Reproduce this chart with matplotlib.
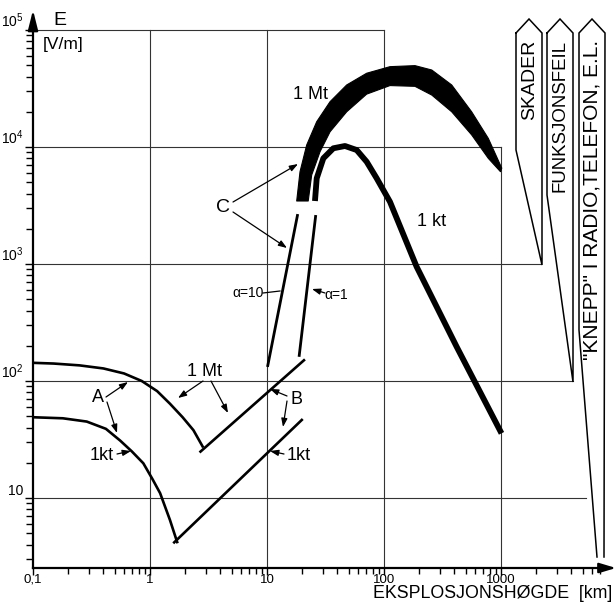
import numpy as np
import matplotlib
matplotlib.use('Agg')
import matplotlib.pyplot as plt
from matplotlib.patches import Polygon
from matplotlib.ticker import NullFormatter, FixedLocator, FixedFormatter
from matplotlib import font_manager

fams = {f.name for f in font_manager.fontManager.ttflist}
fam_list = [f for f in ['Liberation Sans Narrow', 'Liberation Sans', 'DejaVu Sans'] if f in fams]
plt.rcParams['font.family'] = fam_list
plt.rcParams['mathtext.fontset'] = 'custom'
plt.rcParams['mathtext.rm'] = fam_list[0]

# ---------------- data ----------------
# A curves (E vs burst height, low altitude)
a_1mt_x = [0.1, 0.15, 0.25, 0.40, 0.60, 0.85, 1.15, 1.48, 1.9, 2.35, 2.85]
a_1mt_E = [143, 141, 136, 128, 116, 100, 82, 64, 49, 38, 27]
a_1kt_x = [0.1, 0.18, 0.288, 0.42, 0.555, 0.70, 0.877, 1.05, 1.22, 1.48, 1.72]
a_1kt_E = [49, 48, 45, 39, 31, 25, 19.8, 14.5, 11, 6.5, 4.1]
# B lines
b_1mt_x = [2.65, 21.1]
b_1mt_E = [24.5, 153]
b_1kt_x = [1.58, 20.2]
b_1kt_E = [4.1, 47.3]
# C lines
c_a10_x = [10.1, 18.3]
c_a10_E = [132, 2670]
c_a1_x = [18.8, 26.1]
c_a1_E = [161, 2620]
# 1 Mt band (outer and inner edges)
mt_outer_x = [17.94, 19.15, 21.84, 26.6, 34.6, 48.0, 71.1, 112.5, 184, 256, 379, 561, 779, 1015]
mt_outer_E = [3455, 6150, 10400, 16450, 24400, 33900, 42700, 48600, 49600, 45500, 33900, 20000, 11850, 6600]
mt_inner_x = [22.5, 24.1, 28.4, 34.6, 48.0, 71.1, 112.5, 184, 256, 379, 561, 779, 990]
mt_inner_E = [3455, 5770, 9120, 13500, 20000, 28300, 33500, 33000, 27800, 20000, 12700, 8000, 6150]
# 1 kt curve
kt_x = [25.7, 26.6, 30.3, 36.9, 46.4, 58.4, 71.1, 86.6, 112.5, 190, 418, 1010]
kt_E = [3455, 5400, 8000, 9750, 10200, 9420, 7480, 5400, 3400, 948, 196, 35.7]

x_ticks = [0.1, 1, 10, 100, 1000]
x_ticklabels = ['0,1', '1', '10', '100', '1000']
y_ticks = [10, 100, 1000, 10000, 100000]
y_ticklabels = ['10', '10$^2$', '10$^3$', '10$^4$', '10$^5$']
effects = ['SKADER', 'FUNKSJONSFEIL', '"KNEPP" I RADIO,TELEFON, E.L.']

# ---------------- layout ----------------
W, H = 616, 603
X0, Y0, DEC = 33.0, 30.0, 117.0   # pixel of x=0.1, pixel of E=1e5, pixels per decade


def P(px, py):
    """pixel position -> data coordinates"""
    return 10 ** ((px - X0) / DEC - 1), 10 ** (5 - (py - Y0) / DEC)


fig = plt.figure(figsize=(W / 100, H / 100), dpi=100)
ax = fig.add_axes([0, 0, 1, 1])
ax.set_xscale('log')
ax.set_yscale('log')
ax.set_xlim(P(0, 0)[0], P(W, 0)[0])
ax.set_ylim(P(0, H)[1], P(0, 0)[1])

Ebot = P(0, 568)[1]
Etop = P(0, 10)[1]
Xright = P(616, 0)[0]
Xend = P(606, 0)[0]

for s in ['top', 'right']:
    ax.spines[s].set_visible(False)
ax.spines['left'].set_position(('data', 0.1))
ax.spines['bottom'].set_position(('data', Ebot))
ax.spines['left'].set_bounds(Ebot, P(0, 26)[1])
ax.spines['bottom'].set_bounds(0.1, P(602, 0)[0])
ax.spines['left'].set_linewidth(1.6)
ax.spines['bottom'].set_linewidth(1.6)

# axis arrows
ax.annotate('', xy=(0.1, Etop), xytext=(0.1, P(0, 32)[1]),
            arrowprops=dict(arrowstyle='-|>,head_length=1.2,head_width=0.3', color='k', lw=1.6,
                            shrinkA=0, shrinkB=0))
ax.annotate('', xy=(Xright, Ebot), xytext=(P(598, 0)[0], Ebot),
            arrowprops=dict(arrowstyle='-|>,head_length=1.0,head_width=0.3', color='k', lw=1.6,
                            shrinkA=0, shrinkB=0))

x_minor = [m * 10.0 ** k for k in range(-1, 4) for m in range(2, 10) if m * 10.0 ** k <= Xend]
y_minor = [m * 10.0 ** k for k in range(0, 5) for m in range(2, 10) if m * 10.0 ** k >= Ebot]
ax.xaxis.set_major_locator(FixedLocator(x_ticks))
ax.xaxis.set_major_formatter(FixedFormatter(x_ticklabels))
ax.xaxis.set_minor_locator(FixedLocator(x_minor))
ax.xaxis.set_minor_formatter(NullFormatter())
ax.yaxis.set_major_locator(FixedLocator(y_ticks))
ax.yaxis.set_major_formatter(FixedFormatter(y_ticklabels))
ax.yaxis.set_minor_locator(FixedLocator(y_minor))
ax.yaxis.set_minor_formatter(NullFormatter())
ax.tick_params(which='both', direction='out', width=1.0, colors='k')
ax.tick_params(axis='x', which='major', length=5, labelsize=9.5, pad=-1)
ax.tick_params(axis='x', which='minor', length=4)
ax.tick_params(axis='y', which='major', length=6, labelsize=10, pad=1)
ax.tick_params(axis='y', which='minor', length=5)
for lab in ax.get_yticklabels():
    lab.set_verticalalignment('bottom')

# grid
gk = dict(color='0.2', lw=0.8, zorder=1)
for xv in [1, 10, 100]:
    ax.plot([xv, xv], [Ebot, 1e5], **gk)
ax.plot([1000, 1000], [Ebot, 1e4], **gk)
ax.plot([0.1, 100], [1e5, 1e5], **gk)
ax.plot([0.1, 1000], [1e4, 1e4], **gk)
ax.plot([0.1, P(541, 0)[0]], [1e3, 1e3], **gk)
ax.plot([0.1, P(573, 0)[0]], [1e2, 1e2], **gk)
ax.plot([0.1, P(586, 0)[0]], [10, 10], **gk)

# curves
lk = dict(color='k', solid_capstyle='butt', zorder=3)
ax.plot(a_1mt_x, a_1mt_E, lw=1.9, **lk)
ax.plot(a_1kt_x, a_1kt_E, lw=1.9, **lk)
ax.plot(b_1mt_x, b_1mt_E, lw=1.9, **lk)
ax.plot(b_1kt_x, b_1kt_E, lw=1.9, **lk)
ax.plot(c_a10_x, c_a10_E, lw=2.0, **lk)
ax.plot(c_a1_x, c_a1_E, lw=2.0, **lk)
ax.plot(kt_x, kt_E, lw=4.2, solid_joinstyle='round', **lk)
band = list(zip(mt_outer_x, mt_outer_E)) + list(zip(mt_inner_x, mt_inner_E))[::-1]
ax.add_patch(Polygon(band, closed=True, facecolor='k', edgecolor='k', lw=0.8,
                     joinstyle='round', zorder=3))

# effect labels on the right (pentagon arrows)
shapes = [
    [(516, 33), (529, 19), (542, 33), (542, 265), (516, 150), (516, 33)],
    [(547, 33), (560, 19), (573, 33), (573, 382), (547, 195), (547, 33)],
    [(597, 557), (579, 330), (579, 33), (592, 19), (605, 33), (604, 557)],
]
text_x = [529.5, 560.5, 592]
sizes = [14, 13.4, 15]
for pts, cx, fs, txt in zip(shapes, text_x, sizes, effects):
    xs, ys = zip(*[P(*p) for p in pts])
    ax.plot(xs, ys, color='k', lw=1.1, zorder=2, solid_joinstyle='miter')
    ax.text(*P(cx, 40), txt, rotation=90, ha='center', va='top', fontsize=fs)

# texts
ax.text(*P(53, 20), 'E', fontsize=14, ha='left', va='center')
ax.text(*P(43, 44), '[V/m]', fontsize=12.5, ha='left', va='center')
ax.text(*P(612, 598), 'EKSPLOSJONSHØGDE  [km]', fontsize=12.8, ha='right', va='baseline')
ax.text(*P(293, 95), '1 Mt', fontsize=13, ha='left', va='center')
ax.text(*P(417, 221), '1 kt', fontsize=13, ha='left', va='center')
ax.text(*P(223, 207), 'C', fontsize=14, ha='center', va='center')
ax.text(*P(248, 293), 'α=10', fontsize=10, ha='center', va='center')
ax.text(*P(336, 295), 'α=1', fontsize=10, ha='center', va='center')
ax.text(*P(97.5, 398), 'A', fontsize=13, ha='center', va='center')
ax.text(*P(205, 372), '1 Mt', fontsize=13, ha='center', va='center')
ax.text(*P(296, 399), 'B', fontsize=13, ha='center', va='center')
ax.text(*P(102, 455), '1kt', fontsize=13, ha='center', va='center')
ax.text(*P(299, 456), '1kt', fontsize=13, ha='center', va='center')

ak = dict(arrowstyle='-|>,head_length=0.5,head_width=0.18', color='k', lw=0.9,
          shrinkA=0, shrinkB=0)
arrows = [
    ((233, 202), (298, 164)), ((233, 212), (287, 248)),
    ((106, 397), (128, 382)), ((107, 402), (117, 433)),
    ((203, 381), (178, 398)), ((211, 381), (228, 413)),
    ((287, 396), (270, 389)), ((287, 401), (283, 427)),
    ((117, 454), (131, 451)), ((284, 454), (270, 451)),
    ((325, 293), (312, 289)),
]
for (p0, p1) in arrows:
    ax.annotate('', xy=P(*p1), xytext=P(*p0), arrowprops=ak)
ax.plot(*zip(P(263, 293), P(280, 291)), color='k', lw=0.9)

fig.savefig('out.png', dpi=100)
